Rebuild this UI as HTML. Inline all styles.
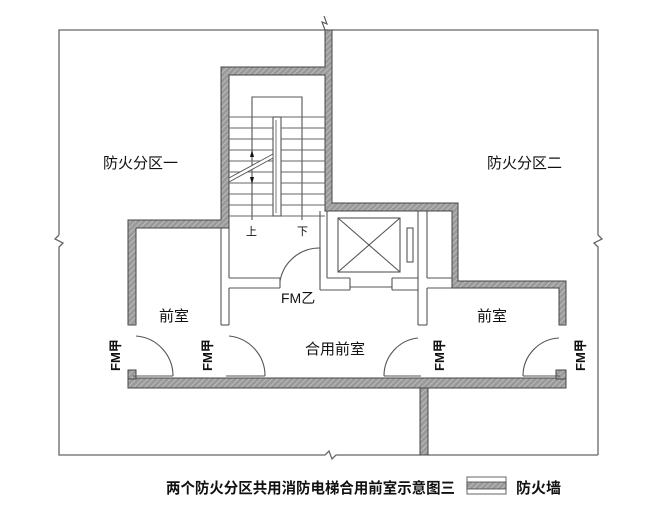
<!DOCTYPE html>
<html><head><meta charset="utf-8"><style>
html,body{margin:0;padding:0;background:#fff;}
svg{display:block;}
text{font-family:"Liberation Sans","Noto Sans CJK SC",sans-serif;fill:#111;}
</style></head><body>
<svg width="651" height="518" viewBox="0 0 651 518" xmlns="http://www.w3.org/2000/svg">
<defs>
<pattern id="h" width="4" height="4" patternUnits="userSpaceOnUse" patternTransform="rotate(45)">
<rect width="4" height="4" fill="#9a9a9a"/><line x1="0" y1="0" x2="0" y2="4" stroke="#d0d0d0" stroke-width="1.2"/>
</pattern>
</defs>
<g fill="none" stroke="#666" stroke-width="1.3">
<polyline points="328,30 59,30 59,235"/>
<polyline points="59,235 55,239 63,243 59,247 59,455 325,455 329,451 332,459 336,455 420,455"/>
<line x1="428" y1="455" x2="598" y2="455"/>
<polyline points="598,455 598,247 594,243 602,239 598,235 598,30 332,30"/>
</g>
<g fill="url(#h)" stroke="#444" stroke-width="1">
<polygon points="221,67 325,67 325,30 332,30 332,203 458,203 458,281 566,281 566,325 559,325 559,288 452,288 452,211 325,211 325,75 229,75 229,228 136,228 136,325 128,325 128,220 221,220"/>
<rect x="128" y="378" width="438" height="10"/>
<rect x="420" y="388" width="8" height="67"/>
<rect x="556" y="370" width="10" height="9"/>
<rect x="128" y="370" width="8" height="9"/>
</g>
<g fill="none" stroke="#555" stroke-width="1.1">
<polyline points="325,30 322,22 327,24 324,16"/>
<line x1="221" y1="228" x2="221" y2="325"/><line x1="229" y1="228" x2="229" y2="278"/>
<line x1="229" y1="288" x2="229" y2="325"/>
<line x1="229" y1="278" x2="280" y2="278"/><line x1="229" y1="288" x2="280" y2="288"/>
<line x1="280" y1="278" x2="280" y2="288"/>
<line x1="320" y1="248" x2="320" y2="281"/>
<path d="M320,248 A40,40 0 0 0 280,281"/>
<line x1="320" y1="211" x2="320" y2="290"/><line x1="327" y1="211" x2="327" y2="278"/>
<line x1="320" y1="290" x2="350" y2="290"/>
<line x1="327" y1="278" x2="350" y2="278"/>
<polyline points="350,278 350,287 392,287 392,278"/>
<line x1="392" y1="290" x2="418" y2="290"/><line x1="392" y1="278" x2="418" y2="278"/>
<line x1="350" y1="290" x2="350" y2="287"/><line x1="392" y1="290" x2="392" y2="287"/>
<rect x="338" y="218" width="62" height="54"/>
<line x1="338" y1="218" x2="400" y2="272"/><line x1="400" y1="218" x2="338" y2="272"/>
<rect x="407" y="228" width="6" height="34"/>
<line x1="418" y1="211" x2="418" y2="325"/><line x1="427" y1="211" x2="427" y2="278"/>
<line x1="427" y1="288" x2="427" y2="325"/>
<line x1="427" y1="278" x2="452" y2="278"/><line x1="427" y1="288" x2="452" y2="288"/>
<line x1="133" y1="376" x2="173" y2="376"/><path d="M173,376 A40,40 0 0 0 136,336"/>
<line x1="226" y1="376" x2="265" y2="376"/><path d="M265,376 A40,40 0 0 0 229,336"/>
<line x1="384" y1="376" x2="421" y2="376"/><path d="M384,376 A38,38 0 0 1 418,338"/>
<line x1="523" y1="376" x2="560" y2="376"/><path d="M523,376 A38,38 0 0 1 559,338"/>
<line x1="128" y1="325" x2="136" y2="325"/><line x1="221" y1="325" x2="229" y2="325"/>
<line x1="418" y1="325" x2="427" y2="325"/><line x1="559" y1="325" x2="566" y2="325"/>
<polyline points="252,220 252,97 302,97 302,220"/>
<rect x="273" y="117" width="8" height="99"/>
<line x1="276" y1="120" x2="276" y2="213" stroke-width="0.8"/>
</g>
<g stroke="#666" stroke-width="0.9">
<line x1="229" y1="117" x2="273" y2="117"/><line x1="281" y1="117" x2="325" y2="117"/>
<line x1="229" y1="128" x2="273" y2="128"/><line x1="281" y1="128" x2="325" y2="128"/>
<line x1="229" y1="139" x2="273" y2="139"/><line x1="281" y1="139" x2="325" y2="139"/>
<line x1="229" y1="150" x2="273" y2="150"/><line x1="281" y1="150" x2="325" y2="150"/>
<line x1="229" y1="161" x2="273" y2="161"/><line x1="281" y1="161" x2="325" y2="161"/>
<line x1="229" y1="172" x2="273" y2="172"/><line x1="281" y1="172" x2="325" y2="172"/>
<line x1="229" y1="183" x2="273" y2="183"/><line x1="281" y1="183" x2="325" y2="183"/>
<line x1="229" y1="194" x2="273" y2="194"/><line x1="281" y1="194" x2="325" y2="194"/>
<line x1="229" y1="205" x2="273" y2="205"/><line x1="281" y1="205" x2="325" y2="205"/>
<line x1="229" y1="216" x2="273" y2="216"/><line x1="281" y1="216" x2="325" y2="216"/>
</g>
<polygon points="229,178 273,154 273,158 229,182" fill="#fff" stroke="#555" stroke-width="0.9"/>
<polygon points="252,150 250,157 254,157" fill="#111"/><polygon points="252,184 250,177 254,177" fill="#111"/>
<text x="246" y="235" font-size="11">上</text>
<text x="297" y="235" font-size="11">下</text>
<g font-size="15">
<text x="103" y="168">防火分区一</text>
<text x="487" y="168">防火分区二</text>
<text x="159" y="321">前室</text>
<text x="477" y="321">前室</text>
<text x="305" y="354">合用前室</text>
<text x="281" y="303" font-size="14">FM乙</text>
</g>
<g font-size="13" font-weight="bold">
<text transform="translate(120,371) rotate(-90)">FM甲</text>
<text transform="translate(212,371) rotate(-90)">FM甲</text>
<text transform="translate(444,371) rotate(-90)">FM甲</text>
<text transform="translate(585,371) rotate(-90)">FM甲</text>
</g>
<text x="166" y="493" font-size="15" font-weight="bold" textLength="289" lengthAdjust="spacingAndGlyphs">两个防火分区共用消防电梯合用前室示意图三</text>
<rect x="467" y="477" width="39" height="17" fill="#fff" stroke="#666"/>
<rect x="467" y="482" width="39" height="7" fill="url(#h)" stroke="#444" stroke-width="0.8"/>
<text x="516" y="493" font-size="15" font-weight="bold">防火墙</text>
</svg>
</body></html>
